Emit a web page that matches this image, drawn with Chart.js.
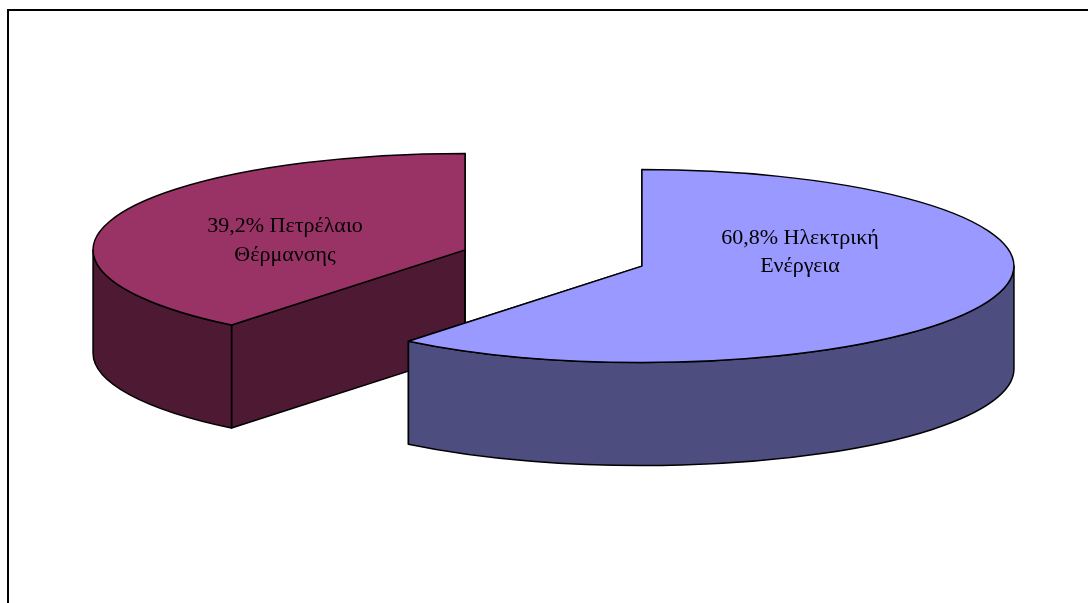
<!DOCTYPE html>
<html>
<head>
<meta charset="utf-8">
<title>Πίτα κατανάλωσης ενέργειας</title>
<script src="https://cdn.jsdelivr.net/npm/chart.js@4"></script>
<style>
    html, body { margin: 0; background: #fff; overflow: hidden; }
    canvas { display: block; }
</style>
</head>
<body>
<canvas id="energyPie" width="1088" height="603"></canvas>
<script>
const categories = ["Ηλεκτρική Ενέργεια", "Πετρέλαιο Θέρμανσης"];
const shares = [60.8, 39.2];
const topColors = ["#9999FF", "#993366"];
const sideColors = ["#4D4D80", "#4D1933"];

// tilted pie: size of the ellipse, wall height, how far the slices are pulled apart
const RX = 372;
const RY = 96.5;
const DEPTH = 103;
const EXPLODE = 93.8;

function sliceGeometry(arc) {
    const { x, y, startAngle, endAngle, outerRadius } = arc.getProps(["x", "y", "startAngle", "endAngle", "outerRadius"], true);
    const mid = (startAngle + endAngle) / 2;
    return {
        x, y, startAngle, endAngle,
        sx: RX / outerRadius,
        sy: RY / outerRadius,
        cx: x + Math.cos(mid) * EXPLODE,
        cy: y + Math.sin(mid) * EXPLODE * (RY / RX)
    };
}

function strokeAndFill(ctx, fill) {
    ctx.fillStyle = fill;
    ctx.fill();
    ctx.stroke();
}

function drawWalls(ctx, g, color) {
    // flat cut faces, from the centre out to both edges of the slice
    [g.startAngle, g.endAngle].forEach(a => {
        const px = g.cx + Math.cos(a) * RX;
        const py = g.cy + Math.sin(a) * RY;
        ctx.beginPath();
        ctx.moveTo(g.cx, g.cy);
        ctx.lineTo(px, py);
        ctx.lineTo(px, py + DEPTH);
        ctx.lineTo(g.cx, g.cy + DEPTH);
        ctx.closePath();
        strokeAndFill(ctx, color);
    });

    // only the part of the rim facing the viewer (canvas angles 0..PI, also after a full turn)
    [0, Math.PI * 2].forEach(turn => {
        const a0 = Math.max(g.startAngle, turn);
        const a1 = Math.min(g.endAngle, turn + Math.PI);
        if (a1 <= a0) return;
        ctx.beginPath();
        ctx.ellipse(g.cx, g.cy, RX, RY, 0, a0, a1);
        ctx.ellipse(g.cx, g.cy + DEPTH, RX, RY, 0, a1, a0, true);
        ctx.closePath();
        strokeAndFill(ctx, color);
    });
}

function drawTop(ctx, g, arc) {
    ctx.save();
    ctx.translate(g.cx, g.cy);
    ctx.scale(g.sx, g.sy);
    ctx.translate(-g.x, -g.y);
    arc.draw(ctx);
    ctx.restore();

    // outline is stroked without the squash so the line keeps its width
    ctx.beginPath();
    ctx.moveTo(g.cx, g.cy);
    ctx.ellipse(g.cx, g.cy, RX, RY, 0, g.startAngle, g.endAngle);
    ctx.closePath();
    ctx.stroke();
}

const tiltedPie = {
    id: "tiltedPie",
    beforeDatasetDraw(chart, args) {
        const ctx = chart.ctx;
        ctx.save();
        ctx.strokeStyle = "#000";
        ctx.lineWidth = 1.5;
        ctx.lineJoin = "round";
        // the slice at the back goes first
        [...args.meta.data].reverse().forEach(arc => {
            const g = sliceGeometry(arc);
            drawWalls(ctx, g, sideColors[arc.$context.index]);
            drawTop(ctx, g, arc);
        });
        ctx.restore();
        return false;
    }
};

function percentText(v) {
    return v.toFixed(1).replace(".", ",") + "%";
}

const sliceLabels = {
    id: "sliceLabels",
    afterDraw(chart) {
        const ctx = chart.ctx;
        const spots = [[800, 244, 272], [285, 232, 261]];
        ctx.save();
        ctx.fillStyle = "#000";
        ctx.font = '22px "Liberation Serif"';
        ctx.textAlign = "center";
        categories.forEach((name, i) => {
            const [first, second] = name.split(" ");
            ctx.fillText(percentText(shares[i]) + " " + first, spots[i][0], spots[i][1]);
            ctx.fillText(second, spots[i][0], spots[i][2]);
        });
        ctx.restore();
    }
};

const chartFrame = {
    id: "chartFrame",
    beforeDraw(chart) {
        const ctx = chart.ctx;
        ctx.save();
        ctx.fillStyle = "#fff";
        ctx.fillRect(0, 0, chart.width, chart.height);
        // the frame runs off the right and bottom of the page
        ctx.strokeStyle = "#000";
        ctx.lineWidth = 2;
        ctx.beginPath();
        ctx.moveTo(8, chart.height);
        ctx.lineTo(8, 10);
        ctx.lineTo(chart.width, 10);
        ctx.stroke();
        ctx.restore();
    }
};

new Chart(document.getElementById("energyPie"), {
    type: "pie",
    data: {
        labels: categories,
        datasets: [{
            data: shares,
            backgroundColor: topColors,
            borderWidth: 0
        }]
    },
    options: {
        responsive: false,
        animation: false,
        layout: { padding: { left: 19, bottom: 87 } },
        plugins: {
            legend: { display: false },
            tooltip: { enabled: false }
        }
    },
    plugins: [chartFrame, tiltedPie, sliceLabels]
});
</script>
</body>
</html>
